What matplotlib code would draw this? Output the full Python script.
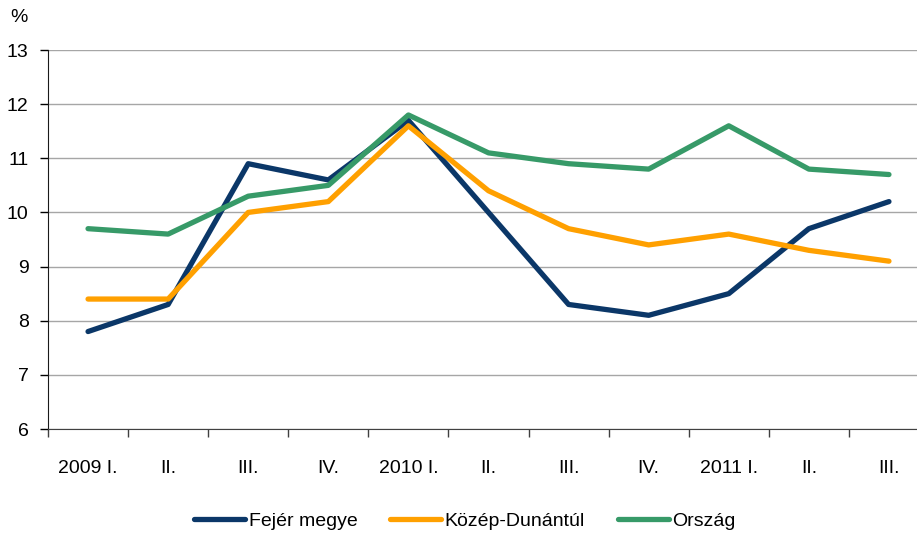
import matplotlib
matplotlib.use("Agg")
import matplotlib.pyplot as plt
import numpy as np

plt.rcParams["font.family"] = ["Liberation Sans", "DejaVu Sans"]

categories = ["2009 I.", "II.", "III.", "IV.", "2010 I.", "II.", "III.", "IV.",
              "2011 I.", "II.", "III."]
fejer = [7.8, 8.3, 10.9, 10.6, 11.7, 10.0, 8.3, 8.1, 8.5, 9.7, 10.2]
kozep = [8.4, 8.4, 10.0, 10.2, 11.6, 10.4, 9.7, 9.4, 9.6, 9.3, 9.1]
orszag = [9.7, 9.6, 10.3, 10.5, 11.8, 11.1, 10.9, 10.8, 11.6, 10.8, 10.7]
series_names = ["Fejér megye", "Közép-Dunántúl", "Ország"]
colors = ["#0b3768", "#ffa000", "#379a68"]

W, H = 917, 533
FS = 14
fig = plt.figure(figsize=(W / 100, H / 100), dpi=100)
# plot area runs past the right edge of the image, as in the original
ax = fig.add_axes([48 / W, 104 / H, 881 / W, 379 / H])

x = np.arange(len(categories))
for vals, name, c in zip([fejer, kozep, orszag], series_names, colors):
    ax.plot(x, vals, color=c, lw=3.8, label=name, solid_capstyle="round",
            zorder=3)

ax.set_xlim(-0.5, len(categories) - 0.5)
ax.set_ylim(6, 13)
ax.set_yticks(range(6, 14))
ax.grid(axis="y", color="#a6a6a6", lw=1.0, zorder=0)
ax.set_axisbelow(True)

ax.set_xticks(x)
ax.set_xticklabels(categories)
ax.set_xticks(np.arange(-0.5, len(categories)), minor=True)
ax.tick_params(axis="x", which="major", length=0, pad=22, labelsize=FS)
ax.tick_params(axis="x", which="minor", length=6, width=1, color="#404040")
ax.tick_params(axis="y", length=6, width=1, pad=8, labelsize=FS)

for s in ["top", "right"]:
    ax.spines[s].set_visible(False)
ax.spines["left"].set_color("#1a1a1a")
ax.spines["bottom"].set_color("#404040")

fig.text(19 / W, 1 - 18 / H, "%", fontsize=FS, ha="center", va="center")

fig.legend(loc="center", bbox_to_anchor=(465 / W, 1 - 521 / H), ncol=3,
           frameon=False, fontsize=FS, handlelength=2.6, handletextpad=0.2,
           columnspacing=1.7)

fig.savefig("out.png", dpi=100)
